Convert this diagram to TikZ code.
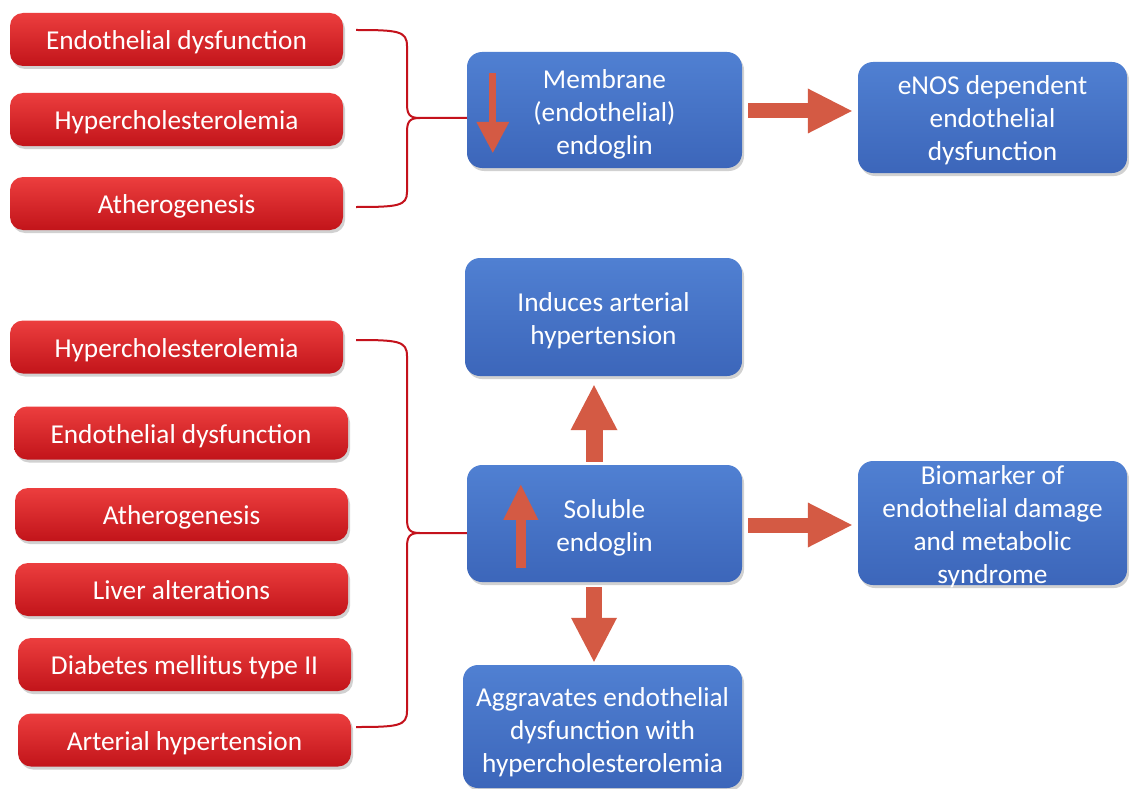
\documentclass[tikz,border=0pt]{standalone}
\usepackage{fontspec}
\setmainfont{Carlito}
\usetikzlibrary{arrows.meta,shadows,calc}
\definecolor{redtop}{RGB}{236,62,62}
\definecolor{redbot}{RGB}{194,20,26}
\definecolor{bluetop}{RGB}{80,128,210}
\definecolor{bluebot}{RGB}{60,102,186}
\definecolor{arrowc}{RGB}{212,90,68}
\definecolor{bracec}{RGB}{196,18,28}
\tikzset{
  redbox/.style={rounded corners=13pt, minimum width=333pt, minimum height=53pt, inner sep=0pt,
    top color=redtop, bottom color=redbot, text=white,
    font=\fontsize{27.3}{30}\selectfont, text height=22pt, text depth=2pt,
    drop shadow={shadow xshift=2pt, shadow yshift=-3pt, fill=black!40, opacity=.45}},
  bluebox/.style={rounded corners=15pt, inner sep=0pt,
    top color=bluetop, bottom color=bluebot,
    drop shadow={shadow xshift=2pt, shadow yshift=-3pt, fill=black!40, opacity=.45}},
  bluetext/.style={inner sep=0pt, align=center, text=white,
    font=\fontsize{27.3}{33}\selectfont},
  brace/.style={draw=bracec, line width=2pt},
  blockarr/.style={draw=arrowc, line width=#1},
}
\begin{document}
\begin{tikzpicture}[x=1pt,y=-1pt]
\useasboundingbox[fill=white] (0,0) rectangle (1129,789);

% red boxes, top group
\node[redbox] (t1) at (176.5,39.5) {Endothelial dysfunction};
\node[redbox] (t2) at (176.5,119.5) {Hypercholesterolemia};
\node[redbox] (t3) at (176.5,203.5) {Atherogenesis};

% red boxes, bottom group
\node[redbox] (b1) at (176.5,347) {Hypercholesterolemia};
\node[redbox, minimum width=334pt] (b2) at (181,433) {Endothelial dysfunction};
\node[redbox] (b3) at (181.5,514.5) {Atherogenesis};
\node[redbox] (b4) at (181.5,589.5) {Liver alterations};
\node[redbox] (b5) at (184.5,664.5) {Diabetes mellitus type II};
\node[redbox] (b6) at (184.5,740) {Arterial hypertension};

% blue boxes
\node[bluebox, minimum width=275pt, minimum height=116pt] (mem) at (604.5,110) {};
\node[bluebox, minimum width=269pt, minimum height=111pt] (enos) at (992.5,117.5) {};
\node[bluebox, minimum width=277pt, minimum height=118pt] (ind) at (603.5,317) {};
\node[bluebox, minimum width=275pt, minimum height=117pt] (sol) at (604.5,523.5) {};
\node[bluebox, minimum width=269pt, minimum height=124pt] (bio) at (992.5,523) {};
\node[bluebox, minimum width=279pt, minimum height=123pt] (agg) at (602.5,726.5) {};

% blue box texts
\node[bluetext] (memt) at ([yshift=-4pt]mem.center) {Membrane\\(endothelial)\\endoglin};
\node[bluetext] (enost) at ([yshift=-3pt]enos.center) {eNOS dependent\\endothelial\\dysfunction};
\node[bluetext] (indt) at ([yshift=-4pt]ind.center) {Induces arterial\\hypertension};
\node[bluetext] (solt) at ([yshift=-4pt]sol.center) {Soluble\\endoglin};
\node[bluetext] (biot) at ([yshift=-4pt]bio.center) {Biomarker of\\endothelial damage\\and metabolic\\syndrome};
\node[bluetext] (aggt) at ([yshift=-5.5pt]agg.center) {Aggravates endothelial\\dysfunction with\\hypercholesterolemia};

% braces, top
\coordinate (ta) at (356,30);
\coordinate (tb) at (356,207);
\coordinate (tt) at (420,118);
\draw[brace] (ta) .. controls (398,30) and (407,31) .. (407,46) -- (407,104)
  .. controls (407,115) and (410,118) .. (tt) -- (tt -| mem.west);
\draw[brace] (tb) .. controls (398,207) and (407,206) .. (407,192) -- (407,132)
  .. controls (407,121) and (410,118) .. (tt);

% braces, bottom
\coordinate (ba) at (356,340);
\coordinate (bb) at (356,727);
\coordinate (bt) at (420,533);
\draw[brace] (ba) .. controls (398,340) and (407,341) .. (407,356) -- (407,519)
  .. controls (407,530) and (410,533) .. (bt) -- (bt -| sol.west);
\draw[brace] (bb) .. controls (398,727) and (407,726) .. (407,711) -- (407,547)
  .. controls (407,536) and (410,533) .. (bt);

% block arrows between boxes
\draw[blockarr=15pt, -{Triangle[length=44pt,width=45pt,line width=0pt 0,fill=arrowc]}, shorten <=6pt, shorten >=6pt]
  ([yshift=-1pt]mem.east) -- ([yshift=-1pt]mem.east -| enos.west);
\draw[blockarr=15pt, -{Triangle[length=44pt,width=45pt,line width=0pt 0,fill=arrowc]}, shorten <=6pt, shorten >=6pt]
  ([yshift=-1.5pt]sol.east) -- ([yshift=-1.5pt]sol.east -| bio.west);
\draw[blockarr=17pt, -{Triangle[length=45pt,width=47pt,line width=0pt 0,fill=arrowc]}, shorten <=3pt, shorten >=9pt]
  ([xshift=-10.5pt]sol.north) -- ([xshift=-10.5pt]sol.north |- ind.south);
\draw[blockarr=16pt, -{Triangle[length=44pt,width=46pt,line width=0pt 0,fill=arrowc]}, shorten <=5pt, shorten >=3pt]
  ([xshift=-10.5pt]sol.south) -- ([xshift=-10.5pt]sol.south |- agg.north);

% small arrows inside boxes
\draw[blockarr=7pt, -{Triangle[length=31pt,width=33pt,line width=0pt 0,fill=arrowc]}]
  ($(mem.north west)+(26,21)$) -- ($(mem.north west)+(26,101)$);
\draw[blockarr=10pt, -{Triangle[length=35pt,width=35pt,line width=0pt 0,fill=arrowc]}]
  ($(sol.north west)+(54,103)$) -- ($(sol.north west)+(54,20)$);
\end{tikzpicture}
\end{document}
